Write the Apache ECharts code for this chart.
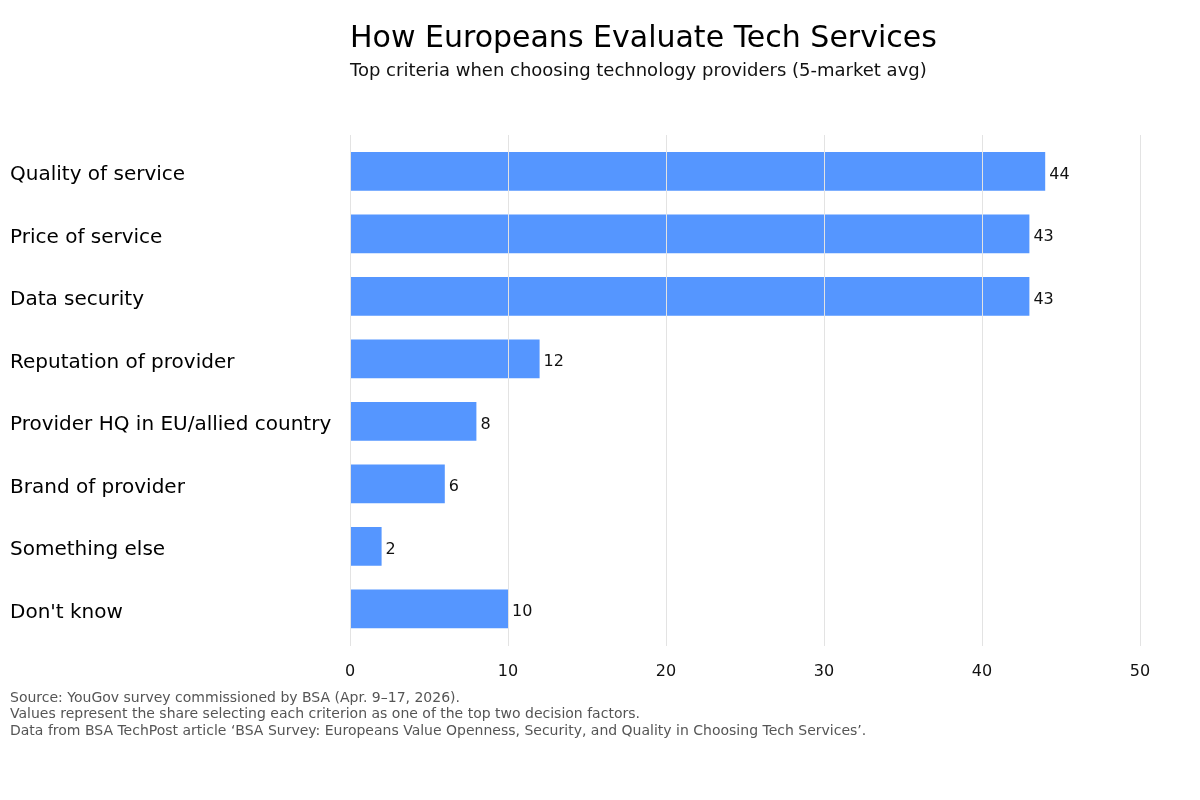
<!DOCTYPE html>
<html>
<head>
<meta charset="utf-8">
<script src="https://cdn.jsdelivr.net/npm/echarts@6/dist/echarts.min.js"></script>
<style>
  html, body { margin: 0; padding: 0; background: #fff; }
  #chart { width: 1200px; height: 800px; }
</style>
</head>
<body>
<div id="chart"></div>
<script>
// data
const categories = ['Quality of service', 'Price of service', 'Data security', 'Reputation of provider',
  'Provider HQ in EU/allied country', 'Brand of provider', 'Something else', "Don't know"];
const shares = [44, 43, 43, 12, 8, 6, 2, 10];
const xTicks = [0, 10, 20, 30, 40, 50];
const footLines = [
  'Source: YouGov survey commissioned by BSA (Apr. 9\u201317, 2026).',
  'Values represent the share selecting each criterion as one of the top two decision factors.',
  'Data from BSA TechPost article \u2018BSA Survey: Europeans Value Openness, Security, and Quality in Choosing Tech Services\u2019.'
];

const font = "'DejaVu Sans', sans-serif";

const option = {
  backgroundColor: '#fff',
  textStyle: { fontFamily: font },
  title: {
    text: 'How Europeans Evaluate Tech Services',
    subtext: 'Top criteria when choosing technology providers (5-market avg)',
    left: 345, top: 19,
    itemGap: 8,
    textStyle: { fontFamily: font, fontSize: 30, fontWeight: 'normal', color: '#000' },
    subtextStyle: { fontFamily: font, fontSize: 18, color: '#111' }
  },
  grid: [
    // lines + x ticks
    { left: 350, right: 60, top: 135, bottom: 154 },
    // bars
    { left: 350, right: 60, top: 140, bottom: 160 },
    // category labels (text sits a little low, like the reference)
    { left: 350, right: 60, top: 144, bottom: 156 }
  ],
  xAxis: [
    {
      gridIndex: 0, type: 'value', min: xTicks[0], max: xTicks[xTicks.length - 1], interval: 10,
      z: 5,
      axisLine: { show: false }, axisTick: { show: false },
      axisLabel: { fontSize: 16, color: '#111', margin: 18, fontFamily: font },
      splitLine: { show: true, lineStyle: { color: '#e3e3e3', width: 1 } }
    },
    {
      gridIndex: 1, type: 'value', min: xTicks[0], max: xTicks[xTicks.length - 1],
      show: false, splitLine: { show: false }
    },
    {
      gridIndex: 2, type: 'value', min: xTicks[0], max: xTicks[xTicks.length - 1],
      show: false, splitLine: { show: false }
    }
  ],
  yAxis: [
    { gridIndex: 0, type: 'category', data: categories, show: false },
    { gridIndex: 1, type: 'category', data: categories, inverse: true, show: false },
    {
      gridIndex: 2, type: 'category', data: categories, inverse: true,
      axisLine: { show: false }, axisTick: { show: false },
      axisLabel: { align: 'left', margin: 340, fontSize: 20, color: '#000', fontFamily: font },
      splitLine: { show: false }
    }
  ],
  series: [{
    type: 'bar',
    xAxisIndex: 1, yAxisIndex: 1,
    data: shares,
    barCategoryGap: '38%',
    itemStyle: { color: '#5596ff' },
    label: { show: true, position: 'right', distance: 4, offset: [0, 3.5], fontSize: 16, color: '#111', fontFamily: font },
    animation: false
  }],
  graphic: footLines.map((t, i) => ({
    type: 'text', left: 10, top: 691 + i * 16.5,
    style: { text: t, fontSize: 14, fill: '#555', fontFamily: font }
  })),
  animation: false
};

const chart = echarts.init(document.getElementById('chart'));
chart.setOption(option);
</script>
</body>
</html>
